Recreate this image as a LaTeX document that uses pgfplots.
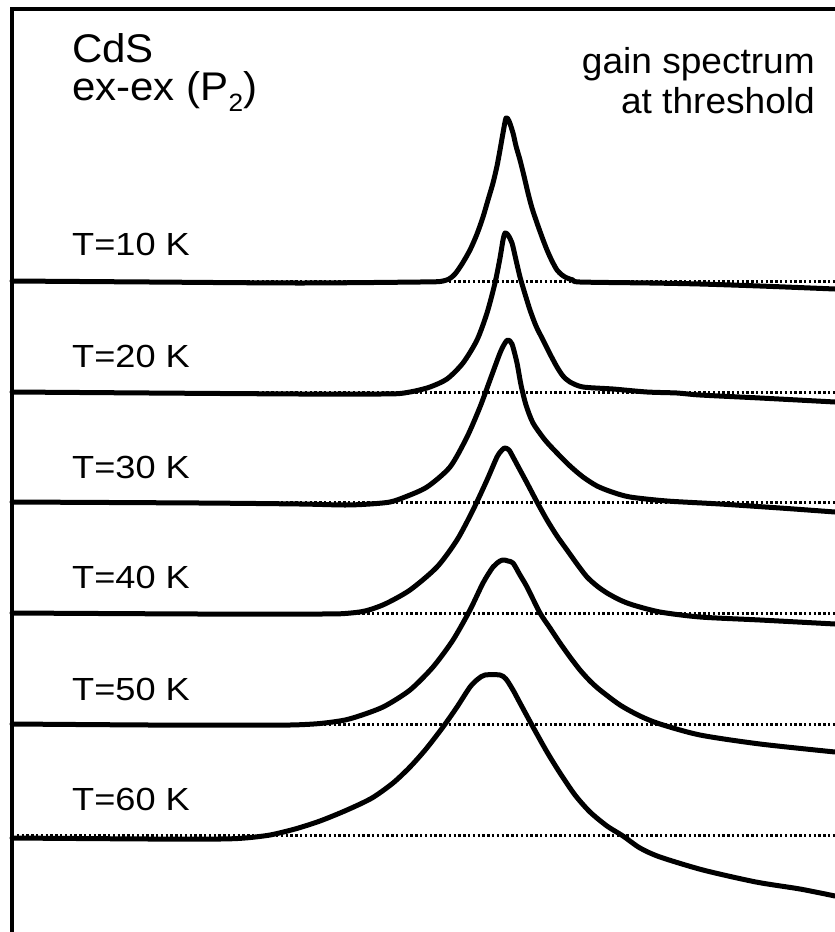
\documentclass[border=0pt]{standalone}
\usepackage{pgfplots}
\pgfplotsset{compat=1.18}
\usepackage{fontspec}
\setmainfont{Liberation Sans}

% Gain spectra of CdS (ex-ex, P2 band) at lasing threshold,
% stacked with a constant offset per temperature. Coordinates are
% given in drawing units (x to the right, y downwards).

\newcommand\tlab[1]{{\fontsize{32pt}{36pt}\selectfont\scalebox{1.13}[1]{#1}}}
\newcommand\ttl[1]{{\fontsize{40pt}{46pt}\selectfont\scalebox{1.05}[1]{#1}}}
\newcommand\gtl[1]{{\fontsize{36pt}{42pt}\selectfont\scalebox{1.03}[1]{#1}}}

\begin{document}
\begin{tikzpicture}
\begin{axis}[
  scale only axis,
  width=835pt, height=932pt,
  xmin=0, xmax=835, ymin=0, ymax=932,
  y dir=reverse,
  hide axis,
  spec/.style={line width=5pt, line join=round, line cap=round, smooth, tension=0.45},
  zero/.style={line width=3pt, dash pattern=on 2.4pt off 2.4pt},
]
% frame
\addplot[line width=4pt, line join=miter] coordinates {(12,932) (12,8.5) (835,8.5)};

% zero lines
\addplot[zero] coordinates {(12,281) (835,281)};
\addplot[zero] coordinates {(12,392) (835,392)};
\addplot[zero] coordinates {(12,502) (835,502)};
\addplot[zero] coordinates {(12,613) (835,613)};
\addplot[zero] coordinates {(12,724) (835,724)};
\addplot[zero] coordinates {(12,835) (835,835)};

% T = 10 K
\addplot[spec] coordinates {
(12,281) (150,282) (300,283) (420,282) (440,281.5) (449,279) (455,274) (462,264)
(470,250) (477,234) (483,217) (488,200) (493,183) (497,166) (500,150) (503,133)
(506,118) (509,121) (513,133) (516,146) (520,160) (524,176) (528,193) (532,208)
(537,223) (542,237) (547,250) (552,261) (557,270) (562,275) (567,278) (573,280)
(580,282) (650,283) (700,284) (760,286) (835,289)};

% T = 20 K
\addplot[spec] coordinates {
(12,392) (150,393) (300,394) (380,394) (400,393.5) (415,391) (430,387) (447,379)
(463,363) (477,340) (487,313) (495,283) (500,258) (503,240) (505,233) (508,235)
(512,243) (516,260) (520,277) (525,294) (530,310) (536,326) (543,340) (550,354)
(557,367) (563,376) (570,382) (583,387) (613,389) (647,392) (677,393) (700,395)
(760,398) (835,402)};

% T = 30 K
\addplot[spec] coordinates {
(12,502) (200,503) (300,504) (345,505) (370,504) (390,502) (405,497) (427,487)
(450,467) (467,437) (480,407) (490,380) (500,353) (505,343) (508,340) (512,344)
(517,363) (521,385) (526,405) (533,423) (545,440) (557,453) (570,466) (583,477)
(597,486) (612,492) (630,497) (667,501) (720,504) (780,508) (835,512)};

% T = 40 K
\addplot[spec] coordinates {
(12,613) (200,614) (320,614) (345,613.5) (365,611) (385,604) (410,590) (437,567)
(457,540) (473,510) (487,480) (497,457) (502,450) (505,448) (509,450) (513,457)
(520,470) (527,483) (537,502) (547,520) (557,536) (567,550) (577,564) (587,577)
(597,586) (607,593) (620,600) (633,605) (660,612) (700,617) (760,620) (835,624)};

% T = 50 K
\addplot[spec] coordinates {
(12,724) (150,725) (230,725) (290,725) (320,723.5) (345,720) (365,714) (385,706)
(410,690) (433,667) (453,640) (470,610) (483,583) (493,567) (500,561) (504,560)
(508,561) (513,563) (520,575) (527,587) (540,613) (550,628) (560,643) (570,657)
(580,670) (590,681) (600,690) (620,705) (640,716) (660,724) (700,735) (760,744)
(835,752)};

% T = 60 K
\addplot[spec] coordinates {
(12,838) (150,839) (220,839) (245,838) (270,835) (295,829) (320,821) (347,810)
(372,798) (393,783) (410,767) (426,749) (443,727) (457,707) (470,687) (478,679)
(485,675) (500,675) (506,679) (513,690) (520,703) (533,727) (547,752) (560,773)
(575,795) (590,812) (607,826) (623,836) (640,848) (660,857) (703,870) (756,882)
(800,889) (835,896)};

% labels
\node[anchor=base west, inner sep=0pt] at (axis cs:72,62) {\ttl{CdS}};
\node[anchor=base west, inner sep=0pt] at (axis cs:72,100)
  {\ttl{ex-ex (P\raisebox{-11pt}{\fontsize{25pt}{25pt}\selectfont 2})}};
\node[anchor=base east, inner sep=0pt] at (axis cs:815,73) {\gtl{gain spectrum}};
\node[anchor=base east, inner sep=0pt] at (axis cs:815,113) {\gtl{at threshold}};

\node[anchor=base west, inner sep=0pt] at (axis cs:72,255) {\tlab{T=10 K}};
\node[anchor=base west, inner sep=0pt] at (axis cs:72,367) {\tlab{T=20 K}};
\node[anchor=base west, inner sep=0pt] at (axis cs:72,478) {\tlab{T=30 K}};
\node[anchor=base west, inner sep=0pt] at (axis cs:72,588) {\tlab{T=40 K}};
\node[anchor=base west, inner sep=0pt] at (axis cs:72,700) {\tlab{T=50 K}};
\node[anchor=base west, inner sep=0pt] at (axis cs:72,810) {\tlab{T=60 K}};
\end{axis}
\pgfresetboundingbox
\useasboundingbox (current axis.south west) rectangle (current axis.north east);
\end{tikzpicture}
\end{document}
